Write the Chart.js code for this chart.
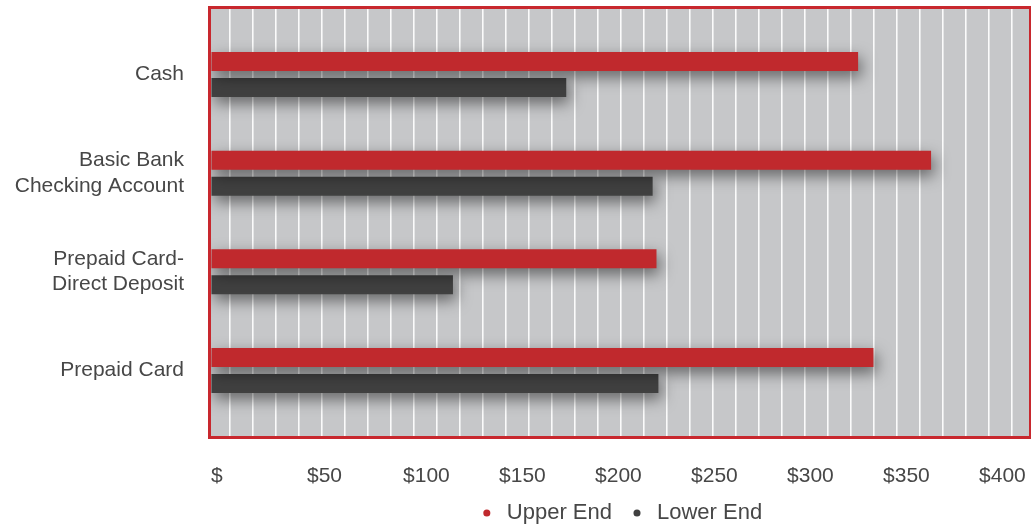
<!DOCTYPE html>
<html>
<head>
<meta charset="utf-8">
<script src="https://cdn.jsdelivr.net/npm/chart.js@4.4.1/dist/chart.umd.min.js"></script>
<style>
  html, body { margin: 0; padding: 0; background: #fff; }
</style>
</head>
<body>
<canvas id="chart" width="1031" height="527"></canvas>
<script>
const categories = ['Cash', ['Basic Bank', 'Checking Account'], ['Prepaid Card-', 'Direct Deposit'], 'Prepaid Card'];
const upperEnd = [337, 375, 232, 345];
const lowerEnd = [185, 230, 126, 233];
const xTicks = [0, 50, 100, 150, 200, 250, 300, 350, 400];
const xMax = 426;

// the white rules in the plot don't sit on the $50 ticks, they have their own spacing
const gridStart = 9.9, gridStep = 11.97, gridCount = 35;
const gridTicks = [];
for (let i = 0; i < gridCount; i++) gridTicks.push(gridStart + i * gridStep);

const RED = '#c0292d';
const DARK = '#404040';
const TEXT = '#474747';
const FONT = "'Liberation Sans', Arial, sans-serif";

const plotDeco = {
  id: 'plotDeco',
  beforeDraw(chart) {
    const { ctx, chartArea: a } = chart;
    ctx.save();
    ctx.fillStyle = '#c6c7c9';
    ctx.fillRect(a.left, a.top, a.width, a.height);
    ctx.restore();
  },
  beforeDatasetsDraw(chart) {
    const ctx = chart.ctx;
    ctx.save();
    ctx.shadowColor = 'rgba(0,0,0,0.5)';
    ctx.shadowBlur = 15;
    ctx.shadowOffsetX = 3;
    ctx.shadowOffsetY = 6;
  },
  afterDatasetsDraw(chart) {
    chart.ctx.restore();
  },
  afterDraw(chart) {
    const { ctx, chartArea: a } = chart;
    ctx.save();
    ctx.strokeStyle = '#c8282e';
    ctx.lineWidth = 3;
    ctx.strokeRect(a.left - 1.5, a.top - 1.5, a.width + 3, a.height + 3);
    ctx.restore();
  }
};

new Chart(document.getElementById('chart').getContext('2d'), {
  type: 'bar',
  data: {
    datasets: [{
      label: 'Upper End',
      data: upperEnd.map((v, i) => ({ x: v, y: i })),
      backgroundColor: RED,
      borderWidth: 0,
      categoryPercentage: 0.527,
      barPercentage: 0.731
    }, {
      label: 'Lower End',
      data: lowerEnd.map((v, i) => ({ x: v, y: i })),
      backgroundColor: DARK,
      borderWidth: 0,
      categoryPercentage: 0.527,
      barPercentage: 0.731
    }]
  },
  options: {
    indexAxis: 'y',
    responsive: false,
    animation: false,
    layout: { padding: { top: 9, right: 2, bottom: -7, left: 0 } },
    plugins: {
      tooltip: { enabled: false },
      legend: {
        position: 'bottom',
        fullSize: false,
        labels: {
          usePointStyle: true,
          pointStyle: 'circle',
          boxWidth: 18,
          boxHeight: 5,
          padding: 16,
          color: TEXT,
          font: { size: 22, family: FONT }
        }
      }
    },
    scales: {
      x: {
        type: 'linear',
        offset: false,
        min: 0,
        max: xMax,
        afterBuildTicks: s => { s.ticks = xTicks.map(v => ({ value: v })); },
        afterFit: s => { s.height = 50; },
        grid: { display: true, drawOnChartArea: false, drawTicks: true, tickLength: 28, tickColor: 'rgba(0,0,0,0)' },
        border: { display: false },
        ticks: {
          align: 'start',
          padding: 0,
          autoSkip: false,
          maxRotation: 0,
          color: TEXT,
          font: { size: 21, family: FONT },
          callback: v => v === 0 ? '$' : '$' + v
        }
      },
      x2: {
        type: 'linear',
        position: 'top',
        offset: false,
        min: 0,
        max: xMax,
        afterBuildTicks: s => { s.ticks = gridTicks.map(v => ({ value: v })); },
        grid: { color: 'rgba(255,255,255,0.92)', lineWidth: 1.6, drawTicks: false },
        border: { display: false },
        ticks: { display: false }
      },
      y: {
        type: 'linear',
        offset: false,
        reverse: true,
        min: -0.664,
        max: 3.664,
        afterBuildTicks: s => { s.ticks = categories.map((c, i) => ({ value: i })); },
        afterFit: s => {
          s.width = 211;
          // labels sit well inside the plot, no need for extra room above/below
          s.paddingTop = 0;
          s.paddingBottom = 0;
        },
        grid: { display: true, drawOnChartArea: false, drawTicks: true, tickLength: 27, tickColor: 'rgba(0,0,0,0)' },
        border: { display: false },
        ticks: {
          padding: 0,
          color: TEXT,
          font: { size: 21, family: FONT },
          callback: v => categories[v]
        }
      }
    }
  },
  plugins: [plotDeco]
});
</script>
</body>
</html>
